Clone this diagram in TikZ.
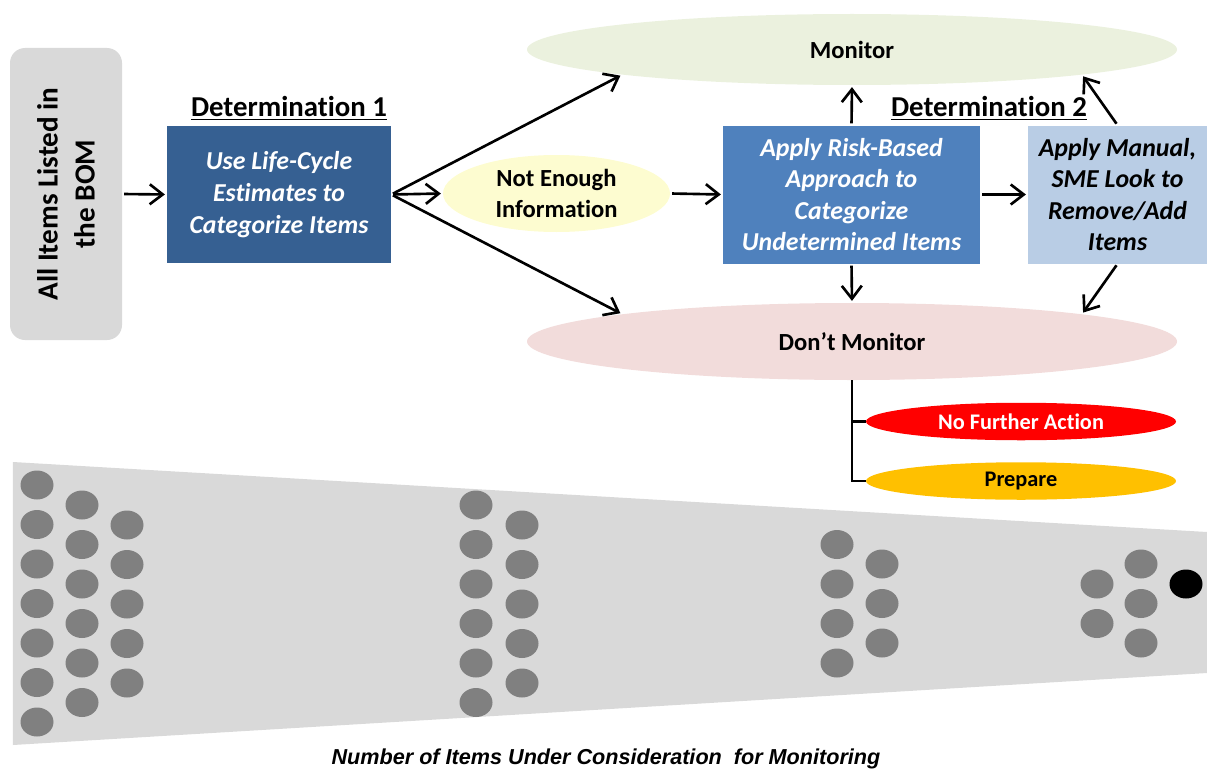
\documentclass[tikz,border=0pt]{standalone}
\usepackage{fontspec}
\setmainfont{Carlito}[Ligatures={TeX,NoCommon},Contextuals=NoAlternate]
\newfontfamily\captionfont{Liberation Sans}
\usetikzlibrary{shapes.geometric,arrows.meta}
\definecolor{bomgray}{RGB}{217,217,217}
\definecolor{stepdark}{RGB}{54,96,146}
\definecolor{stepmid}{RGB}{79,129,189}
\definecolor{steplight}{RGB}{185,205,229}
\definecolor{monitorgreen}{RGB}{235,241,222}
\definecolor{nomonitorpink}{RGB}{242,220,219}
\definecolor{infoyellow}{RGB}{253,252,208}
\definecolor{actionred}{RGB}{255,0,0}
\definecolor{prepareamber}{RGB}{255,192,0}
\definecolor{itemgray}{RGB}{128,128,128}

\begin{document}
\begin{tikzpicture}[x=1cm,y=1cm,font=\bfseries,
    flow/.style={line width=1.5pt,-{Straight Barb[length=2.6mm,width=4mm]},
      shorten >=1pt,shorten <=1pt},
    stepbox/.style={rectangle,inner sep=2pt,align=center,minimum height=2.76cm,
      font=\bfseries\itshape\fontsize{14.7}{18}\selectfont},
    outcome/.style={ellipse,inner sep=0pt,align=center,
      font=\bfseries\fontsize{14}{18}\selectfont},
    action/.style={ellipse,inner sep=0pt,minimum width=6.2cm,minimum height=.75cm,
      font=\bfseries\fontsize{12.7}{15}\selectfont},
    heading/.style={font=\bfseries\fontsize{16.4}{19}\selectfont}]
  \useasboundingbox (0,0) rectangle (24.14,15.4);

  % funnel of items
  \fill[bomgray] (.26,6.16) -- (24.14,4.76) -- (24.14,1.94) -- (.26,.5) -- cycle;
  \foreach \cx/\top/\n in {.74/5.70/7,1.64/5.30/6,2.54/4.90/5,9.52/5.30/6,
      10.44/4.90/5,16.74/4.51/4,17.64/4.12/3,21.94/3.72/2,22.82/4.12/3}
    \foreach \i in {1,...,\n}
      \fill[itemgray] (\cx,{\top-(\i-1)*.79}) ellipse [x radius=.33,y radius=.29];
  \fill (23.72,3.72) ellipse [x radius=.33,y radius=.29];
  \node[font=\captionfont\bfseries\itshape\fontsize{12.3}{14}\selectfont] (caption)
    at (12.12,.22) {Number of Items Under Consideration~ for Monitoring};

  \node[rectangle,rounded corners=.3cm,fill=bomgray,rotate=90,align=center,
    minimum width=5.84cm,minimum height=2.24cm,
    font=\bfseries\fontsize{16.6}{21}\selectfont] (bom) at (1.32,11.52)
    {All Items Listed in\\the BOM};
  \node[heading] (det1) at (5.78,13.24) {\underline{Determination 1}};
  \node[stepbox,fill=stepdark,text=white,minimum width=4.48cm,minimum height=2.74cm]
    (b1) at (5.58,11.51) {Use Life-Cycle\\Estimates to\\Categorize Items};
  \node[outcome,fill=infoyellow,minimum width=4.54cm,minimum height=1.54cm]
    (ne) at (11.13,11.53) {Not Enough\\Information};
  \node[outcome,fill=monitorgreen,minimum width=13cm,minimum height=1.42cm]
    (mon) at (17.04,14.41) {Monitor};
  \node[stepbox,fill=stepmid,text=white,minimum width=5.14cm] (b2) at (17.03,11.51)
    {Apply Risk-Based\\Approach to\\Categorize\\Undetermined Items};
  \node[heading] (det2) at (19.78,13.24) {\underline{Determination 2}};
  \node[stepbox,fill=steplight,minimum width=3.58cm] (b3) at (22.35,11.51)
    {Apply Manual,\\SME Look to\\Remove/Add\\Items};
  \node[outcome,fill=nomonitorpink,minimum width=13cm,minimum height=1.54cm]
    (dm) at (17.04,8.57) {Don't Monitor};
  \node[action,fill=actionred,text=white] (nfa) at (20.42,6.97) {No Further Action};
  \node[action,fill=prepareamber] (prep) at (20.42,5.78) {Prepare};

  \draw[flow] (bom.south) -- (b1.west);
  \draw[flow] (b1.east) -- (mon.south west);
  \draw[flow] (b1.east) -- (ne.west);
  \draw[flow] (b1.east) -- (dm.north west);
  \draw[flow] (ne.east) -- (b2.west);
  \draw[flow] (b2.north) -- (mon.south);
  \draw[flow] (b2.south) -- (dm.north);
  \draw[flow] (b2.east) -- (b3.west);
  \draw[flow] (b3.north) -- (mon.south east);
  \draw[flow] (b3.south) -- (dm.north east);
  \draw[line width=1.2pt] (dm.south) |- (nfa.west) (dm.south) |- (prep.west);
\end{tikzpicture}
\end{document}
